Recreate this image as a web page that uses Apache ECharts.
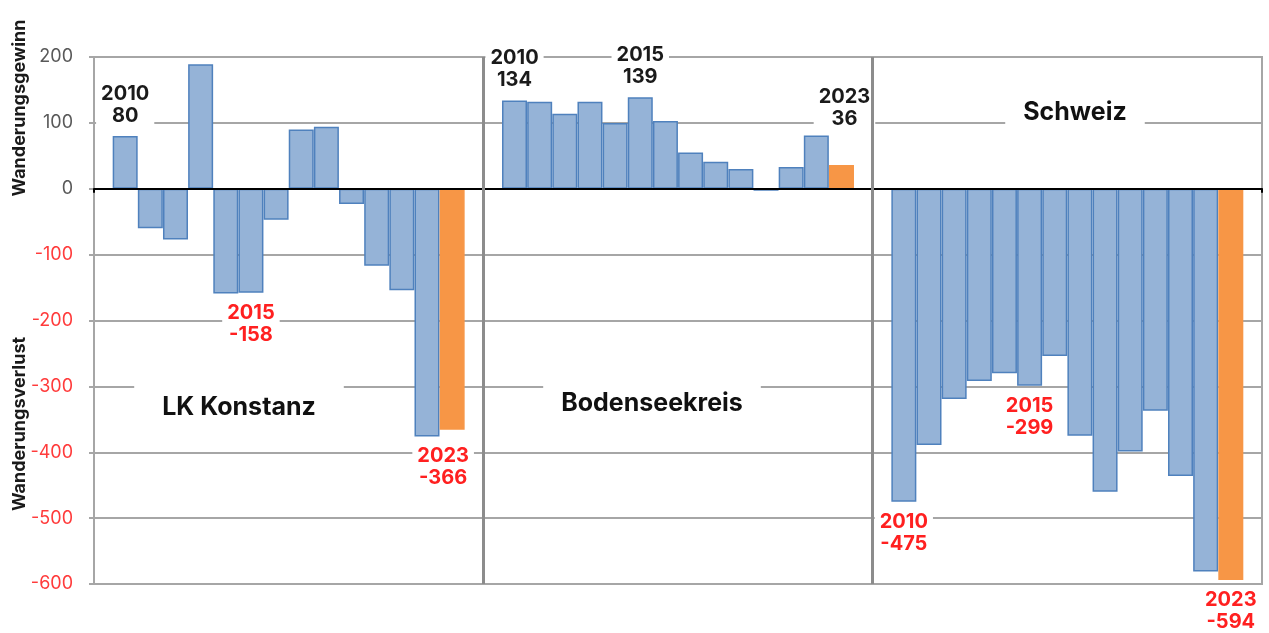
<!DOCTYPE html>
<html>
<head>
<meta charset="utf-8">
<script src="https://cdn.jsdelivr.net/npm/echarts@6/dist/echarts.min.js"></script>
<style>
  html, body { margin: 0; padding: 0; background: #fff; }
  #main { width: 1269px; height: 633px; }
</style>
</head>
<body>
<div id="main"></div>
<script>
// Wanderungssaldo 2010-2023
const years = ['2010', '2011', '2012', '2013', '2014', '2015', '2016', '2017', '2018', '2019', '2020', '2021', '2022', '2023'];
const regions = ['LK Konstanz', 'Bodenseekreis', 'Schweiz'];
const konstanz = [80, -60, -77, 189, -159, -158, -47, 90, 94, -23, -117, -154, -376, -366];
const bodensee = [134, 132, 114, 132, 100, 139, 103, 55, 41, 30, -3, 33, 81, 36];
const schweiz = [-475, -389, -319, -292, -280, -299, -254, -375, -460, -399, -337, -436, -581, -594];
const labelYears = ['2010', '2015', '2023'];
const yMin = -600, yMax = 200, yStep = 100;

const values = [konstanz, bodensee, schweiz];
const GAP = 0.74;               // Leerraum links/rechts je Gruppe (in Balkenbreiten)
const G = years.length + 2 * GAP; // Breite einer Gruppe

// kleine Verschiebungen einzelner Beschriftungen
const labelShift = {
  'LK Konstanz-2023': [-9, 6],
  'Bodenseekreis-2023': [3, -26]
};

const data = [];
values.forEach((arr, g) => {
  arr.forEach((v, i) => {
    const item = { value: [g * G + GAP + 0.5 + i, v] };
    if (i === years.length - 1) {
      item.itemStyle = { color: '#f79646', borderColor: '#f79646' };
    }
    if (labelYears.indexOf(years[i]) >= 0) {
      item.label = {
        show: true,
        position: v >= 0 ? 'top' : 'bottom',
        distance: 7,
        offset: labelShift[regions[g] + '-' + years[i]] || [0, 0],
        formatter: years[i] + '\n' + v,
        color: v >= 0 ? '#1a1a1a' : '#ff2020',
        fontFamily: 'Inter',
        fontWeight: 'bold',
        fontSize: 20,
        lineHeight: 22,
        backgroundColor: '#fff',
        padding: [2, 5]
      };
    }
    data.push(item);
  });
});

const chart = echarts.init(document.getElementById('main'));

const option = {
  animation: false,
  grid: {
    left: 94, right: 7, top: 57, bottom: 49,
    show: true, borderColor: '#a6a6a6', borderWidth: 2
  },
  xAxis: {
    type: 'value',
    min: 0,
    max: 3 * G,
    interval: G,
    z: 3,
    axisLine: { onZero: true, lineStyle: { color: '#000', width: 2 } },
    axisTick: { show: true, length: 4, lineStyle: { color: '#000', width: 2 } },
    axisLabel: { show: false },
    splitLine: { show: false }
  },
  yAxis: {
    type: 'value',
    min: yMin,
    max: yMax,
    interval: yStep,
    axisLine: { show: true, lineStyle: { color: '#a6a6a6', width: 2 } },
    axisTick: { show: true, length: 5, lineStyle: { color: '#a6a6a6', width: 2 } },
    axisLabel: {
      margin: 21,
      fontFamily: 'Inter',
      fontSize: 18,
      color: function (val) { return Number(val) < 0 ? '#ff3b3b' : '#595959'; }
    },
    splitLine: { lineStyle: { color: '#a6a6a6', width: 2 } }
  },
  series: [{
    type: 'bar',
    barWidth: 25,
    data: data,
    itemStyle: { color: '#95b3d7', borderColor: '#4f81bd', borderWidth: 1.5 },
    label: { show: false },
    markLine: {
      silent: true,
      symbol: 'none',
      label: { show: false },
      lineStyle: { color: '#8c8c8c', width: 3, type: 'solid' },
      data: [{ xAxis: G }, { xAxis: 2 * G }]
    }
  }],
  graphic: [
    {
      type: 'text', x: 20, y: 108, rotation: Math.PI / 2, z: 10,
      style: { text: 'Wanderungsgewinn', fontFamily: 'Inter', fontWeight: 'bold', fontSize: 18, fill: '#1a1a1a', align: 'center', verticalAlign: 'middle' }
    },
    {
      type: 'text', x: 20, y: 424, rotation: Math.PI / 2, z: 10,
      style: { text: 'Wanderungsverlust', fontFamily: 'Inter', fontWeight: 'bold', fontSize: 18, fill: '#1a1a1a', align: 'center', verticalAlign: 'middle' }
    },
    {
      type: 'text', x: 239, y: 407, z: 10,
      style: { text: regions[0], fontFamily: 'Inter', fontWeight: 'bold', fontSize: 25, fill: '#111', align: 'center', verticalAlign: 'middle', backgroundColor: '#fff', padding: [20, 28] }
    },
    {
      type: 'text', x: 652, y: 403, z: 10,
      style: { text: regions[1], fontFamily: 'Inter', fontWeight: 'bold', fontSize: 25, fill: '#111', align: 'center', verticalAlign: 'middle', backgroundColor: '#fff', padding: [20, 18] }
    },
    {
      type: 'text', x: 1075, y: 112, z: 10,
      style: { text: regions[2], fontFamily: 'Inter', fontWeight: 'bold', fontSize: 25, fill: '#111', align: 'center', verticalAlign: 'middle', backgroundColor: '#fff', padding: [13, 18] }
    }
  ]
};

chart.setOption(option);
</script>
</body>
</html>
